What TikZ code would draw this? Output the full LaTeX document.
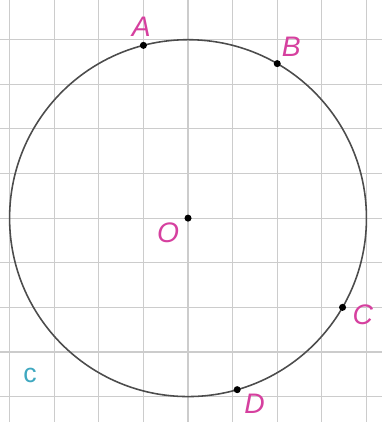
\documentclass[tikz,border=0pt]{standalone}
\usepackage{fontspec}
\setsansfont{Liberation Sans}
\usetikzlibrary{positioning}
\definecolor{ptlabel}{HTML}{D6409F}
\definecolor{circlabel}{HTML}{3FA8C0}
\definecolor{gridgray}{HTML}{CCCCCC}

\begin{document}
\begin{tikzpicture}[
    lbl/.style={text=ptlabel,font=\sffamily\itshape\fontsize{18}{20}\selectfont,inner sep=1pt},
    dot/.style={circle,fill=black,inner sep=0pt,minimum size=4.5pt}
  ]
    \useasboundingbox (-4.215,-4.57) rectangle (4.35,4.89);
    \fill[white] (-4.215,-4.57) rectangle (4.35,4.89);
    \draw[gridgray,line width=0.7pt] (-4.215,-4.57) grid (4.35,4.89);
    \draw[black!70,line width=1pt] (0,0) circle (4);
    \node[dot] (o) at (0,0) {};
    \node[dot] (a) at (-1,3.873) {};
    \node[dot] (b) at (2,3.464) {};
    \node[dot] (c) at (3.464,-2) {};
    \node[dot] (d) at (-74:4) {};
    \node[lbl,above=0.08cm of a,xshift=-0.05cm] (la) {A};
    \node[lbl,above right=0.06cm and 0.0cm of b] (lb) {B};
    \node[lbl,below left=0.0cm and 0.1cm of o] (lo) {O};
    \node[lbl,right=0.1cm of c,yshift=-0.17cm] (lc) {C};
    \node[lbl,below right=0.0cm and 0.06cm of d] (ld) {D};
    \node[text=circlabel,font=\sffamily\fontsize{17}{19}\selectfont] (lcirc) at (-3.54,-3.52) {c};
  \end{tikzpicture}
\end{document}
